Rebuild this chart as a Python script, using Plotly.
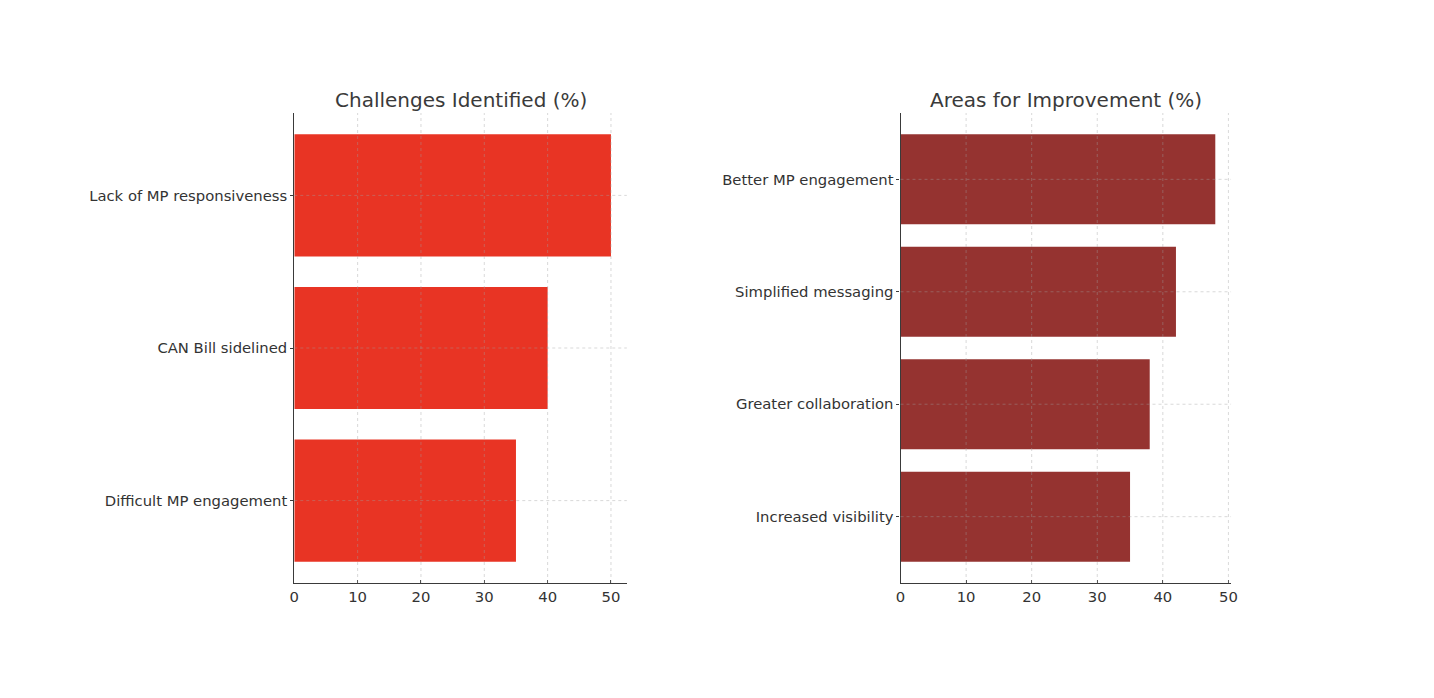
import plotly.graph_objects as go
from plotly.subplots import make_subplots

challenges = ["Difficult MP engagement", "CAN Bill sidelined", "Lack of MP responsiveness"]
challenge_values = [35, 40, 50]

improvements = ["Increased visibility", "Greater collaboration", "Simplified messaging", "Better MP engagement"]
improvement_values = [35, 38, 42, 48]

x_ticks = [0, 10, 20, 30, 40, 50]

OFF = 8  # page body margin
W, H = 1434 - 2 * OFF, 698 - 2 * OFF
fig = make_subplots(rows=1, cols=2, subplot_titles=("Challenges Identified (%)", "Areas for Improvement (%)"))

fig.add_trace(go.Bar(y=challenges, x=challenge_values, orientation="h", width=0.8,
                     marker=dict(color="#e83424", line=dict(width=0))), row=1, col=1)
fig.add_trace(go.Bar(y=improvements, x=improvement_values, orientation="h", width=0.8,
                     marker=dict(color="#953330", line=dict(width=0))), row=1, col=2)

def px_x(p):
    # empirical correction for the rendered horizontal scale
    t = (p - 295) / 0.99 + 293
    return (t - OFF) / W

def px_y(p):
    return (H - (p - OFF)) / H

ybot = px_y(583)
ytop = px_y(113)
dom1 = [px_x(293.7), px_x(625.7)]
dom2 = [px_x(899), px_x(1229)]

font_ticks = dict(family="DejaVu Sans", size=14.8, color="#333")
common = dict(showline=True, linecolor="#3a3a3a", linewidth=1.2, tickcolor="#3a3a3a",
              tickfont=font_ticks, showgrid=False, zeroline=False, layer="above traces")

fig.update_xaxes(**common, ticks="inside", ticklen=3, tickvals=x_ticks,
                 range=[0, max(challenge_values) * 1.05], domain=dom1, row=1, col=1)
fig.update_xaxes(**common, ticks="inside", ticklen=3, tickvals=x_ticks,
                 range=[0, max(improvement_values) * 1.05], domain=dom2, row=1, col=2)
fig.update_yaxes(**common, ticks="outside", ticklen=3, range=[-0.54, len(challenges) - 1 + 0.54],
                 domain=[ybot, ytop], ticklabelstandoff=0, row=1, col=1)
fig.update_yaxes(**common, ticks="outside", ticklen=3, range=[-0.59, len(improvements) - 1 + 0.59],
                 domain=[ybot, ytop], ticklabelstandoff=0, row=1, col=2)

grid_line = dict(color="rgba(160,160,160,0.45)", width=0.9, dash="dot")
for xr, yr, cats in (("x", "y", challenges), ("x2", "y2", improvements)):
    for t in x_ticks[1:]:
        fig.add_shape(type="line", xref=xr, yref=yr + " domain", x0=t, x1=t, y0=0, y1=1,
                      line=grid_line, layer="above")
    for c in cats:
        fig.add_shape(type="line", xref=xr + " domain", yref=yr, x0=0, x1=1, y0=c, y1=c,
                      line=grid_line, layer="above")

for ann, dom in zip(fig.layout.annotations, (dom1, dom2)):
    ann.font = dict(family="DejaVu Sans", size=20, color="#3a3a3a")
    ann.x = (dom[0] + dom[1]) / 2
    ann.xanchor = "center"
    ann.yanchor = "middle"
    ann.y = px_y(100)

fig.update_layout(width=W, height=H, margin=dict(l=0, r=0, t=0, b=0),
                  paper_bgcolor="white", plot_bgcolor="white", showlegend=False,
                  bargap=0.2)

fig.write_html("out.html")
